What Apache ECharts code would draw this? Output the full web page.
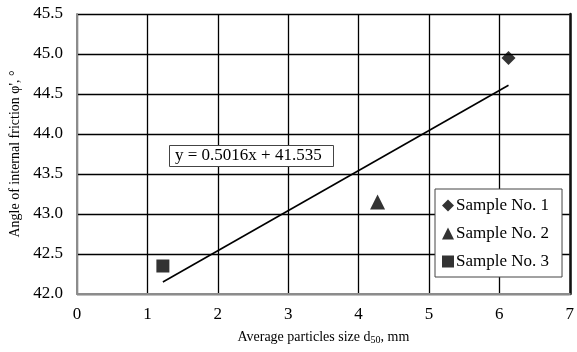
<!DOCTYPE html>
<html><head><meta charset="utf-8">
<script src="https://cdn.jsdelivr.net/npm/echarts@6/dist/echarts.min.js"></script>
<style>html,body{margin:0;padding:0;background:#fff}#c{width:577px;height:352px}</style>
</head><body><div id="c"></div>
<script>
const sampleNames = ['Sample No. 1', 'Sample No. 2', 'Sample No. 3'];
const sample1 = [[6.13, 44.95]];
const sample2 = [[4.27, 43.15]];
const sample3 = [[1.22, 42.35]];
const trendLine = [[1.22, 42.15], [6.13, 44.61]];
const equationText = 'y = 0.5016x + 41.535';
const xTicks = {min: 0, max: 7, interval: 1};
const yTicks = {min: 42.0, max: 45.5, interval: 0.5};

const F = '"Liberation Serif", "Times New Roman", serif';
const chart = echarts.init(document.getElementById('c'));
chart.setOption({
  animation: false,
  backgroundColor: '#fff',
  grid: {left: 77, right: 6, top: 14, bottom: 58},
  xAxis: {
    type: 'value', min: xTicks.min, max: xTicks.max, interval: xTicks.interval,
    axisLine: {show: true, lineStyle: {color: '#8c8c8c', width: 2}},
    axisTick: {show: false},
    axisLabel: {color: '#000', fontFamily: F, fontSize: 17, margin: 12},
    splitLine: {show: true, lineStyle: {color: '#000', width: 1.3}},
    name: 'Average particles size d{s|50}, mm',
    nameLocation: 'middle', nameGap: 35,
    nameTextStyle: {color: '#000', fontFamily: F, fontSize: 14,
      rich: {s: {fontFamily: F, fontSize: 10, verticalAlign: 'bottom', padding: [6, 0, 0, 0], color: '#000'}}}
  },
  yAxis: [{
    type: 'value', min: yTicks.min, max: yTicks.max, interval: yTicks.interval,
    axisLine: {show: true, lineStyle: {color: '#8c8c8c', width: 2}},
    axisTick: {show: false},
    axisLabel: {color: '#000', fontFamily: F, fontSize: 17, margin: 14, formatter: v => v.toFixed(1)},
    splitLine: {show: true, lineStyle: {color: '#000', width: 1.3}},
    name: "Angle of internal friction φ', °",
    nameLocation: 'middle', nameGap: 55,
    nameTextStyle: {color: '#000', fontFamily: F, fontSize: 14}
  }, {
    type: 'value', min: yTicks.min, max: yTicks.max, interval: yTicks.interval, position: 'right',
    axisLine: {show: true, lineStyle: {color: '#111', width: 2.5}},
    axisTick: {show: false}, axisLabel: {show: false}, splitLine: {show: false}
  }],
  legend: {
    orient: 'vertical', left: 435, top: 189,
    data: [
      {name: sampleNames[0], icon: 'diamond'},
      {name: sampleNames[1], icon: 'triangle'},
      {name: sampleNames[2], icon: 'rect'}
    ],
    backgroundColor: '#fff', borderColor: '#444', borderWidth: 1,
    padding: [8, 13, 7, 7], itemGap: 11, itemWidth: 12, itemHeight: 12,
    textStyle: {color: '#000', fontFamily: F, fontSize: 17, padding: [0, 0, 0, -3]}
  },
  graphic: [{
    type: 'rect', left: 169, top: 145, shape: {width: 164, height: 21},
    style: {fill: '#fff', stroke: '#444', lineWidth: 1}, z: 10
  }, {
    type: 'text', left: 175, top: 147,
    style: {text: equationText, fill: '#000', font: '17px ' + F}, z: 11
  }],
  series: [
    {type: 'line', data: trendLine, symbol: 'none', lineStyle: {color: '#000', width: 1.6}, z: 3, silent: true},
    {name: sampleNames[0], type: 'scatter', data: sample1, symbol: 'diamond', symbolSize: 14, itemStyle: {color: '#000'}, z: 5},
    {name: sampleNames[1], type: 'scatter', data: sample2, symbol: 'triangle', symbolSize: 15, itemStyle: {color: '#000'}, z: 5},
    {name: sampleNames[2], type: 'scatter', data: sample3, symbol: 'rect', symbolSize: 13, itemStyle: {color: '#000'}, z: 5}
  ]
});
</script></body></html>
